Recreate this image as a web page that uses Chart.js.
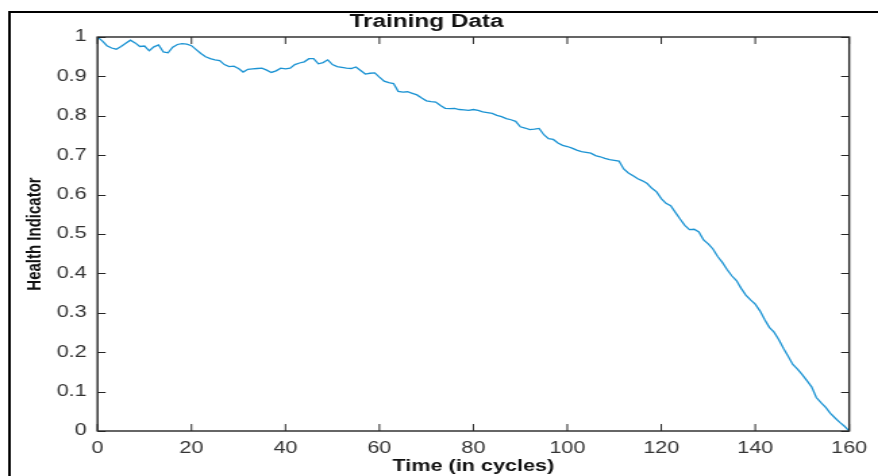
<!DOCTYPE html>
<html>
<head>
<meta charset="utf-8">
<script src="https://cdn.jsdelivr.net/npm/chart.js@4.4.1/dist/chart.umd.min.js"></script>
<style>
  html, body { margin: 0; padding: 0; background: #fff; overflow: hidden; }
  #wrap { width: 878px; height: 476px; position: relative; overflow: hidden; }
  /* the reference picture is stretched sideways, so the canvas is too */
  #hiChart { transform: scaleX(1.3508); transform-origin: 0 0; display: block; }
</style>
</head>
<body>
<div id="wrap"><canvas id="hiChart" width="650" height="476"></canvas></div>
<script>
// cycles 0..160
const cycles = Array.from({ length: 161 }, (_, i) => i);

const healthIndicator = [
  1.000, 0.990, 0.978, 0.972, 0.969, 0.976, 0.984, 0.992, 0.985, 0.976,
  0.977, 0.965, 0.975, 0.980, 0.962, 0.960, 0.974, 0.981, 0.983, 0.982,
  0.978, 0.968, 0.958, 0.950, 0.945, 0.942, 0.940, 0.930, 0.925, 0.926,
  0.920, 0.911, 0.918, 0.919, 0.920, 0.921, 0.916, 0.910, 0.914, 0.921,
  0.919, 0.921, 0.930, 0.934, 0.937, 0.945, 0.945, 0.932, 0.935, 0.942,
  0.930, 0.925, 0.923, 0.921, 0.920, 0.924, 0.915, 0.906, 0.908, 0.909,
  0.898, 0.888, 0.884, 0.882, 0.862, 0.860, 0.861, 0.857, 0.853, 0.845,
  0.838, 0.836, 0.835, 0.826, 0.819, 0.818, 0.819, 0.816, 0.815, 0.814,
  0.816, 0.814, 0.810, 0.808, 0.806, 0.801, 0.798, 0.793, 0.790, 0.786,
  0.772, 0.769, 0.765, 0.766, 0.768, 0.752, 0.742, 0.740, 0.731, 0.725,
  0.722, 0.718, 0.713, 0.709, 0.707, 0.705, 0.699, 0.696, 0.692, 0.689,
  0.687, 0.685, 0.665, 0.655, 0.648, 0.640, 0.635, 0.628, 0.616, 0.607,
  0.590, 0.578, 0.572, 0.555, 0.538, 0.522, 0.511, 0.512, 0.505, 0.485,
  0.475, 0.462, 0.443, 0.428, 0.410, 0.394, 0.382, 0.362, 0.345, 0.333,
  0.322, 0.305, 0.283, 0.263, 0.251, 0.232, 0.210, 0.190, 0.169, 0.157,
  0.143, 0.128, 0.112, 0.085, 0.072, 0.060, 0.045, 0.033, 0.022, 0.012,
  0.000
];

const xTicks = [0, 20, 40, 60, 80, 100, 120, 140, 160];
const yTicks = [0, 0.1, 0.2, 0.3, 0.4, 0.5, 0.6, 0.7, 0.8, 0.9, 1];

const axisColor = '#262626';
const fontFamily = 'Liberation Sans, Arial, sans-serif';

// matlab style box with inward ticks, plus the outer figure frame
const boxPlugin = {
    id: 'boxPlugin',
    afterDraw(chart) {
        const { ctx, chartArea: a, scales } = chart;
        ctx.save();
        ctx.strokeStyle = '#000';
        ctx.lineWidth = 2;
        ctx.beginPath();
        ctx.moveTo(7, 476);
        ctx.lineTo(7, 12);
        ctx.lineTo(650, 12);
        ctx.stroke();

        ctx.strokeStyle = axisColor;
        ctx.lineWidth = 1.4;
        ctx.strokeRect(a.left, a.top, a.right - a.left, a.bottom - a.top);

        ctx.lineWidth = 1;
        ctx.beginPath();
        xTicks.forEach(v => {
            const x = scales.x.getPixelForValue(v);
            ctx.moveTo(x, a.bottom); ctx.lineTo(x, a.bottom - 7);
            ctx.moveTo(x, a.top); ctx.lineTo(x, a.top + 7);
        });
        yTicks.forEach(v => {
            const y = Math.round(scales.y.getPixelForValue(v)) + 0.5;
            ctx.moveTo(a.left, y); ctx.lineTo(a.left + 6, y);
            ctx.moveTo(a.right, y); ctx.lineTo(a.right - 6, y);
        });
        ctx.stroke();
        ctx.restore();
    }
};

const ctx = document.getElementById('hiChart').getContext('2d');
new Chart(ctx, {
    type: 'line',
    data: {
        labels: cycles,
        datasets: [{
            label: 'Health Indicator',
            data: cycles.map((c, i) => ({ x: c, y: healthIndicator[i] })),
            borderColor: '#1b93d3',
            borderWidth: 1.3,
            pointRadius: 0,
            tension: 0,
            fill: false
        }]
    },
    options: {
        responsive: false,
        animation: false,
        layout: { padding: { left: 0, right: 18.3, top: 0, bottom: 0 } },
        plugins: {
            legend: { display: false },
            tooltip: { enabled: false },
            title: {
                display: true,
                text: 'Training Data',
                color: '#111',
                font: { family: fontFamily, size: 18, weight: 'bold' },
                padding: { top: 11, bottom: 4.4 }
            }
        },
        scales: {
            x: {
                type: 'linear',
                min: 0,
                max: 160,
                afterFit: (s) => { s.height = 45; },
                afterBuildTicks: (s) => { s.ticks = xTicks.map(v => ({ value: v })); },
                grid: { display: false, drawTicks: false },
                border: { display: false },
                ticks: {
                    color: '#333',
                    padding: 8,
                    maxRotation: 0,
                    font: { family: fontFamily, size: 16 }
                },
                title: {
                    display: true,
                    text: 'Time (in cycles)',
                    color: '#111',
                    padding: { top: 0, bottom: 0 },
                    font: { family: fontFamily, size: 16, weight: 'bold' }
                }
            },
            y: {
                min: 0,
                max: 1,
                afterFit: (s) => { s.width = 72.2; },
                afterBuildTicks: (s) => { s.ticks = yTicks.map(v => ({ value: v })); },
                grid: { display: false, drawTicks: false },
                border: { display: false },
                ticks: {
                    color: '#333',
                    padding: 8,
                    callback: (v) => String(Math.round(v * 10) / 10),
                    font: { family: fontFamily, size: 16 }
                },
                title: {
                    display: true,
                    text: 'Health Indicator',
                    color: '#111',
                    padding: { top: 17, bottom: 0 },
                    font: { family: fontFamily, size: 15, weight: 'bold' }
                }
            }
        }
    },
    plugins: [boxPlugin]
});
</script>
</body>
</html>
